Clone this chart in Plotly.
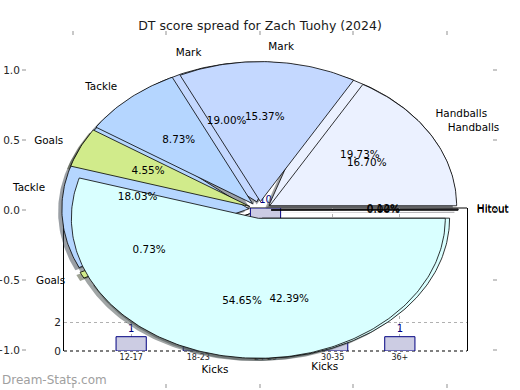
import numpy as np
import plotly.graph_objects as go

# ---------------- data ----------------
title_text = "DT score spread for Zach Tuohy (2024)"

pie_labels = ["Hitout", "Handballs", "Mark", "Tackle", "Goals", "Kicks"]
pie_a_pct = [0.00, 16.70, 15.37, 8.73, 4.55, 54.65]
pie_b_pct = [0.12, 19.73, 19.00, 18.03, 0.73, 42.39]
pie_colors = ["#ece0ff", "#ebf1ff", "#c4d8ff", "#b5d6ff", "#d1eb8b", "#d9ffff"]

bar_bins = ["12-17", "18-23", "24-29", "30-35", "36+"]
bar_counts = [1, 4, 10, 5, 1]

pie_ticks = [-1.0, -0.5, 0.0, 0.5, 1.0]
bar_yticks = [0, 2]

# ---------------- style ----------------
FONT = "DejaVu Sans"
EXPLODE = 0.06
PCT_DIST = 0.6
LABEL_DIST = 1.1
SHADOW = (-0.02, -0.02)


def hex_to_rgb(h):
    h = h.lstrip("#")
    return tuple(int(h[i:i + 2], 16) for i in (0, 2, 4))


def pie_geometry(pcts):
    fr = np.asarray(pcts, dtype=float)
    fr = fr / fr.sum()
    ends = 360.0 * np.cumsum(fr)
    starts = np.concatenate([[0.0], ends[:-1]])
    out = []
    for t1, t2 in zip(starts, ends):
        mid = np.radians((t1 + t2) / 2)
        ox, oy = EXPLODE * np.cos(mid), EXPLODE * np.sin(mid)
        n = max(2, int(np.ceil(t2 - t1)) + 1)
        ang = np.radians(np.linspace(t1, t2, n))
        xs = np.concatenate([[ox], ox + np.cos(ang), [ox]])
        ys = np.concatenate([[oy], oy + np.sin(ang), [oy]])
        out.append(dict(xs=xs, ys=ys, mid=mid, ox=ox, oy=oy))
    return out


geo_a = pie_geometry(pie_a_pct)
geo_b = pie_geometry(pie_b_pct)

fig = go.Figure()

# ---- bar chart (lower layer: subplot xy) ----
fig.add_trace(go.Bar(
    x=bar_bins, y=bar_counts, width=0.45,
    marker=dict(color="#ccccE3", line=dict(color="#000080", width=1)),
    text=[str(v) for v in bar_counts], textposition="outside",
    textfont=dict(family=FONT, size=10, color="#000080"),
    cliponaxis=False, xaxis="x", yaxis="y", hoverinfo="skip",
))

# ---- pies (upper layer: subplot x2y2) ----
for geo in (geo_b, geo_a):
    for g, col in zip(geo, pie_colors):
        r, gg, b = hex_to_rgb(col)
        fig.add_trace(go.Scatter(
            x=g["xs"] + SHADOW[0], y=g["ys"] + SHADOW[1], mode="lines",
            fill="toself", fillcolor=f"rgba({int(.3*r)},{int(.3*gg)},{int(.3*b)},0.5)",
            line=dict(width=0, color="rgba(0,0,0,0)"),
            xaxis="x2", yaxis="y2", hoverinfo="skip",
        ))
for geo in (geo_b, geo_a):
    for g, col in zip(geo, pie_colors):
        fig.add_trace(go.Scatter(
            x=g["xs"], y=g["ys"], mode="lines", fill="toself", fillcolor=col,
            line=dict(width=0.8, color="black"),
            xaxis="x2", yaxis="y2", hoverinfo="skip",
        ))

for geo, pcts in ((geo_b, pie_b_pct), (geo_a, pie_a_pct)):
    fig.add_trace(go.Scatter(
        x=[g["ox"] + PCT_DIST * np.cos(g["mid"]) for g in geo],
        y=[g["oy"] + PCT_DIST * np.sin(g["mid"]) for g in geo],
        mode="text", text=[f"{p:.2f}%" for p in pcts],
        textposition="middle center",
        textfont=dict(family=FONT, size=10.4, color="black"),
        xaxis="x2", yaxis="y2", hoverinfo="skip",
    ))
    lx = [g["ox"] + LABEL_DIST * np.cos(g["mid"]) for g in geo]
    ly = [g["oy"] + LABEL_DIST * np.sin(g["mid"]) for g in geo]
    fig.add_trace(go.Scatter(
        x=lx, y=ly, mode="text", text=pie_labels,
        textposition=["middle right" if v > 0 else "middle left" for v in lx],
        textfont=dict(family=FONT, size=10.4, color="black"),
        xaxis="x2", yaxis="y2", hoverinfo="skip", cliponaxis=False,
    ))

W, H = 520, 390
fig.update_layout(
    width=W, height=H, margin=dict(l=0, r=0, t=0, b=0, autoexpand=False),
    paper_bgcolor="white", plot_bgcolor="rgba(0,0,0,0)",
    showlegend=False,
    font=dict(family=FONT, size=10.5, color="#262626"),
    title=dict(text=title_text, x=0.5, xanchor="center", y=1 - 26 / H,
               yanchor="middle", font=dict(family=FONT, size=12.5, color="#1a1a1a")),
    xaxis=dict(domain=[64 / W, 467 / W], type="category", range=[-1, 5], automargin=False,
               anchor="y", showline=False,
               showgrid=True, gridcolor="#b0b0b0", griddash="dot", gridwidth=1,
               ticks="", tickfont=dict(family=FONT, size=8, color="#222"), fixedrange=True),
    yaxis=dict(domain=[1 - 351 / H, 1 - 208 / H], range=[0, 10], anchor="x", automargin=False,
               tickvals=bar_yticks, showline=True, mirror=True, linecolor="black", linewidth=1,
               showgrid=True, gridcolor="#b0b0b0", griddash="dot", gridwidth=1,
               zeroline=False, ticks="", tickfont=dict(family=FONT, size=10.5, color="#222")),
    xaxis2=dict(domain=[27 / W, 492 / W], range=[-1.246, 1.241], anchor="y2", automargin=False,
                tickvals=pie_ticks, tickformat=".1f", ticks="outside", ticklen=4, tickwidth=2,
                tickcolor="#c8c8c8", mirror="ticks", showline=False, showgrid=False,
                zeroline=False, tickfont=dict(family=FONT, size=10.5, color="#262626")),
    yaxis2=dict(domain=[1 - 383 / H, 1 - 36 / H], range=[-1.236, 1.243], anchor="x2", automargin=False,
                tickvals=pie_ticks, tickformat=".1f", ticks="outside", ticklen=4, tickwidth=2,
                tickcolor="#c8c8c8", mirror="ticks", showline=False, showgrid=False,
                zeroline=False, tickfont=dict(family=FONT, size=10.5, color="#262626")),
    shapes=[
        dict(type="line", xref="x domain", yref="y domain", x0=0, x1=1, y0=1, y1=1,
             line=dict(color="black", width=1), layer="below"),
        dict(type="line", xref="x domain", yref="y domain", x0=0, x1=1, y0=0, y1=0,
             line=dict(color="black", width=1.2, dash="dot"), layer="below"),
    ],
    annotations=[dict(text="Dream-Stats.com", xref="paper", yref="paper", x=0, y=1 - 380 / H,
                      xanchor="left", yanchor="middle", showarrow=False,
                      font=dict(family=FONT, size=12, color="#a0a0a0"))],
)

fig.write_html(
    "out.html",
    config={"displayModeBar": False},
    post_script="document.body.style.margin='0';document.body.style.overflow='hidden';",
)
